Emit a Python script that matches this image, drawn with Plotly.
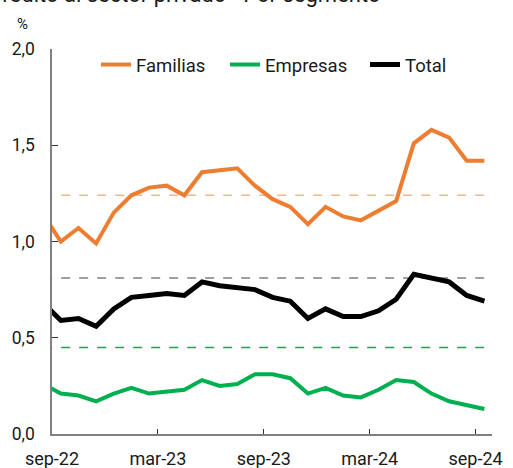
import plotly.graph_objects as go

# month index: 0 = start of sep-22; points at mid-month (aug-22 .. sep-24)
months = [k + 0.5 for k in range(-1, 25)]
tick_pos = [0, 6, 12, 18, 24]
tick_labels = ["sep-22", "mar-23", "sep-23", "mar-24", "sep-24"]

familias = [1.14, 1.00, 1.07, 0.99, 1.15, 1.24, 1.28, 1.29, 1.24, 1.36, 1.37, 1.38,
            1.29, 1.22, 1.18, 1.09, 1.18, 1.13, 1.11, 1.16, 1.21, 1.51, 1.58, 1.54,
            1.42, 1.42]
empresas = [0.26, 0.21, 0.20, 0.17, 0.21, 0.24, 0.21, 0.22, 0.23, 0.28, 0.25, 0.26,
            0.31, 0.31, 0.29, 0.21, 0.24, 0.20, 0.19, 0.23, 0.28, 0.27, 0.21, 0.17,
            0.15, 0.13]
total = [0.68, 0.59, 0.60, 0.56, 0.65, 0.71, 0.72, 0.73, 0.72, 0.79, 0.77, 0.76,
         0.75, 0.71, 0.69, 0.60, 0.65, 0.61, 0.61, 0.64, 0.70, 0.83, 0.81, 0.79,
         0.72, 0.69]
avg_familias = 1.24
avg_empresas = 0.45
avg_total = 0.81

# plot area in pixels (for placing texts)
L, R, T, B = 52, 21, 49, 34
W, H = 513, 468
PW, PH = W - L - R, H - T - B


def px(xp):
    return (xp - L) / PW


def py(yp):
    return (H - B - yp) / PH


fig = go.Figure()
span = [months[0], months[-1]]
fig.add_trace(go.Scatter(x=span, y=[avg_familias] * 2, mode="lines", showlegend=False,
                         line=dict(color="#F5B48A", width=1.5, dash="dash"), hoverinfo="skip"))
fig.add_trace(go.Scatter(x=span, y=[avg_total] * 2, mode="lines", showlegend=False,
                         line=dict(color="#7F7F7F", width=1.5, dash="dash"), hoverinfo="skip"))
fig.add_trace(go.Scatter(x=span, y=[avg_empresas] * 2, mode="lines", showlegend=False,
                         line=dict(color="#00B050", width=1.5, dash="dash"), hoverinfo="skip"))

fig.add_trace(go.Scatter(x=months, y=familias, mode="lines", name="Familias", legend="legend",
                         line=dict(color="#ED7D31", width=4)))
fig.add_trace(go.Scatter(x=months, y=empresas, mode="lines", name="Empresas", legend="legend2",
                         line=dict(color="#00B050", width=4)))
fig.add_trace(go.Scatter(x=months, y=total, mode="lines", name="Total", legend="legend3",
                         line=dict(color="#000000", width=5)))

leg_common = dict(orientation="h", yanchor="middle", xanchor="left", y=py(65),
                  font=dict(size=18.5), itemwidth=30, bgcolor="rgba(0,0,0,0)", borderwidth=0)

fig.update_layout(
    width=W, height=H,
    margin=dict(l=L, r=R, t=T, b=B, autoexpand=False),
    paper_bgcolor="white", plot_bgcolor="white",
    font=dict(family="Roboto", size=18, color="#1a1a1a"),
    showlegend=True,
    legend=dict(x=px(96), **leg_common),
    legend2=dict(x=px(225), **leg_common),
    legend3=dict(x=px(365), **leg_common),
    xaxis=dict(range=[0, 24.93], tickmode="array", tickvals=tick_pos, ticktext=tick_labels,
               automargin=False,
               showgrid=False, zeroline=False, showline=True, linecolor="#808080", linewidth=1.5,
               ticks="inside", ticklen=5, tickcolor="#333333", tickwidth=1.2,
               ticklabelstandoff=8, tickfont=dict(size=18)),
    yaxis=dict(range=[0, 2.0], tickmode="array", tickvals=[0, 0.5, 1.0, 1.5, 2.0],
               ticktext=["0,0", "0,5", "1,0", "1,5", "2,0"],
               automargin=False,
               showgrid=False, zeroline=False, showline=True, linecolor="#808080", linewidth=1.5,
               ticks="inside", ticklen=6, tickcolor="#333333", tickwidth=1.2,
               ticklabelstandoff=12, tickfont=dict(size=17.5)),
)

fig.add_annotation(text="%", xref="paper", yref="paper", x=px(22), y=py(24),
                   xanchor="center", yanchor="middle", showarrow=False, font=dict(size=15))
fig.add_annotation(text="Crédito al sector privado - Por segmento", xref="paper", yref="paper",
                   x=px(-14), y=py(9), xanchor="left", yanchor="bottom",
                   showarrow=False, font=dict(size=22))

fig.write_html("out.html", config={"displayModeBar": False},
               post_script="document.body.style.margin='0';")
